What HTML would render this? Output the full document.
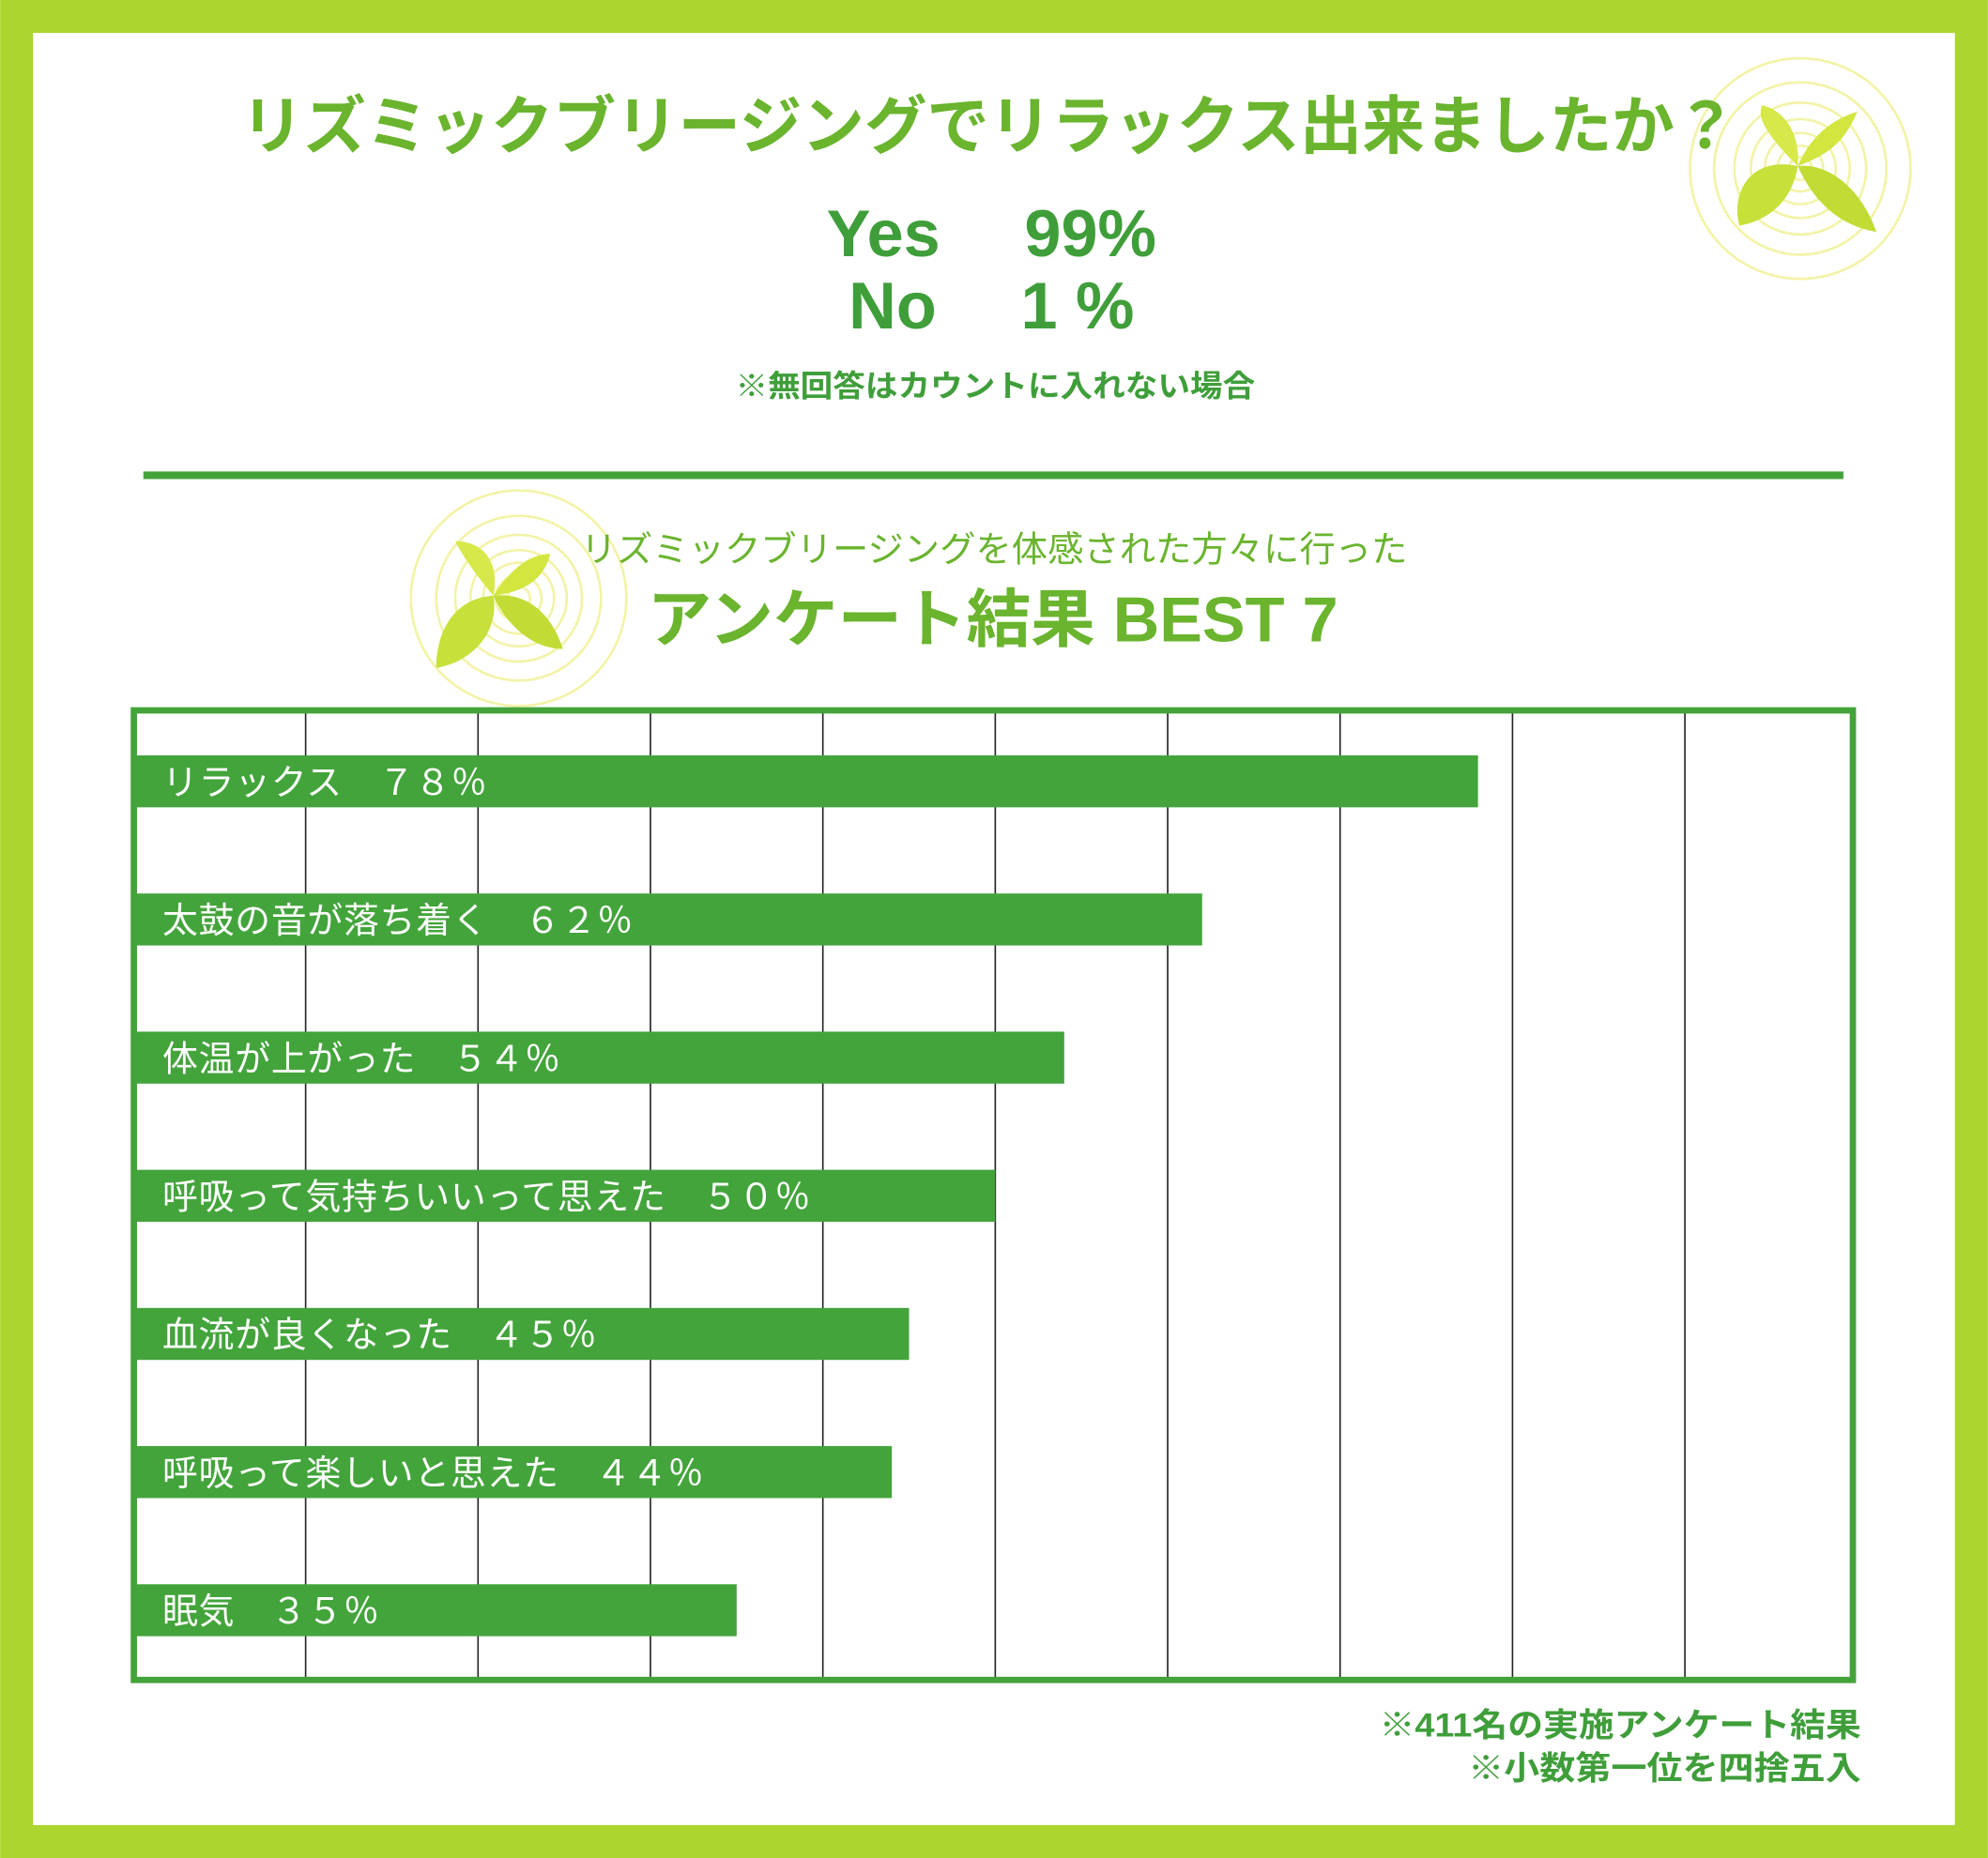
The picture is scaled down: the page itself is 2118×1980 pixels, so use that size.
<!DOCTYPE html>
<html><head><meta charset="utf-8"><style>
html,body{margin:0;padding:0;background:#fff}
svg{display:block}
text{font-family:"Liberation Sans","Noto Sans CJK JP",sans-serif}
</style></head><body>
<svg id="chart" width="2118" height="1980" viewBox="0 0 1568 1466" xmlns="http://www.w3.org/2000/svg">
<rect x="0" y="0" width="1568" height="1466" fill="#abd52f"/>
<rect x="26" y="26" width="1516" height="1414" fill="#ffffff"/>

<g transform="translate(1420,133)">
<g fill="none" stroke="#f3f3a8" stroke-width="2">
<circle r="87"/><circle r="68"/><circle r="52"/><circle r="39"/><circle r="28"/><circle r="18"/><circle r="9"/></g>
<path d="M-2,-2 C-40,-10 -55,20 -48,45 C-20,40 -5,20 -2,-2Z" fill="#c8e03a"/>
<path d="M-2,-2 C-25,-25 -35,-40 -30,-50 C-10,-45 0,-25 -2,-2Z" fill="#d7e84a"/>
<path d="M-2,-2 C10,-30 30,-40 45,-45 C35,-20 20,-10 -2,-2Z" fill="#d3e640"/>
<path d="M-2,-2 C25,-5 50,20 60,50 C30,45 10,25 -2,-2Z" fill="#c2dc35"/>
</g>

<text x="780" y="117" text-anchor="middle" font-size="50" font-weight="bold" fill="#6ab42e" textLength="1180" lengthAdjust="spacingAndGlyphs">リズミックブリージングでリラックス出来ましたか？</text>
<text x="782" y="202" text-anchor="middle" font-size="52" font-weight="bold" fill="#3f9e3a" xml:space="preserve">Yes　 99%</text>
<text x="782" y="259" text-anchor="middle" font-size="52" font-weight="bold" fill="#3f9e3a" xml:space="preserve">No　 1 %</text>
<text x="785" y="313" text-anchor="middle" font-size="24" font-weight="bold" fill="#3f9e3a" textLength="410" lengthAdjust="spacingAndGlyphs">※無回答はカウントに入れない場合</text>
<rect x="113" y="372" width="1341" height="6" fill="#43a33a"/>

<g transform="translate(409,472)">
<g fill="none" stroke="#f3f3a8" stroke-width="2">
<circle r="85"/><circle r="65"/><circle r="50"/><circle r="38"/><circle r="28"/><circle r="18"/><circle r="9"/></g>
<path d="M-20,-2 C-50,0 -65,25 -65,55 C-35,50 -15,25 -20,-2Z" fill="#c8e03a"/>
<path d="M-20,-2 C-35,-20 -45,-35 -50,-45 C-25,-45 -15,-25 -20,-2Z" fill="#d7e84a"/>
<path d="M-20,-2 C-5,-25 10,-35 25,-35 C20,-15 5,-5 -20,-2Z" fill="#d3e640"/>
<path d="M-20,-2 C5,-5 25,10 35,40 C10,40 -10,20 -20,-2Z" fill="#c2dc35"/>
</g>

<text x="784" y="443" text-anchor="middle" font-size="28" fill="#6ab42e" textLength="652" lengthAdjust="spacingAndGlyphs">リズミックブリージングを体感された方々に行った</text>
<text x="783" y="506" text-anchor="middle" font-size="50" font-weight="bold" fill="#6ab42e" textLength="545" lengthAdjust="spacingAndGlyphs">アンケート結果  BEST 7</text>

<g id="plot"></g>
<rect x="105.5" y="560.5" width="1356" height="765" fill="none" stroke="#43a33a" stroke-width="5"/>

<text x="1468" y="1370" text-anchor="end" font-size="26" font-weight="bold" fill="#3f9e3a" textLength="380" lengthAdjust="spacingAndGlyphs">※411名の実施アンケート結果</text>
<text x="1468" y="1404" text-anchor="end" font-size="26" font-weight="bold" fill="#3f9e3a" textLength="310" lengthAdjust="spacingAndGlyphs">※小数第一位を四捨五入</text>
</svg>
<script>
const categories = ["リラックス","太鼓の音が落ち着く","体温が上がった","呼吸って気持ちいいって思えた","血流が良くなった","呼吸って楽しいと思えた","眠気"];
const values = [78, 62, 54, 50, 45, 44, 35];
const valueLabels = ["７８％","６２％","５４％","５０％","４５％","４４％","３５％"];
const gridTicks = [10,20,30,40,50,60,70,80,90];

const NS = "http://www.w3.org/2000/svg";
const plot = document.getElementById("plot");
const x = v => 105 + v * 13.6;
const yTop = i => 596 + i * 109;
const barH = 41;

gridTicks.forEach(t => {
  const l = document.createElementNS(NS, "line");
  
  
  l.setAttribute("x1", x(t)); l.setAttribute("x2", x(t));
  l.setAttribute("y1", 560); l.setAttribute("y2", 1326);
  l.setAttribute("stroke", "#222"); l.setAttribute("stroke-width", "1.2");
  plot.appendChild(l);
});

categories.forEach((c, i) => {
  const r = document.createElementNS(NS, "rect");
  
  
  r.setAttribute("x", x(0)); r.setAttribute("y", yTop(i));
  r.setAttribute("width", x(values[i]) - x(0)); r.setAttribute("height", barH);
  r.setAttribute("fill", "#43a43b");
  plot.appendChild(r);
  const t = document.createElementNS(NS, "text");
  
  
  t.setAttribute("x", 128); t.setAttribute("y", yTop(i) + 31);
  t.setAttribute("font-size", "28"); t.setAttribute("fill", "#fff");
  t.setAttribute("letter-spacing", "0.6");
  t.textContent = c + "　" + valueLabels[i];
  plot.appendChild(t);
});
</script>
</body></html>
